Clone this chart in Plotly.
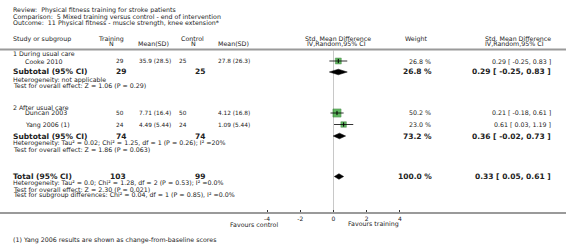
import plotly.graph_objects as go

# ---------------- data ----------------
studies = ["Cooke 2010", "Duncan 2003", "Yang 2006 (1)"]
train_n = [29, 50, 24]
train_msd = ["35.9 (28.5)", "7.71 (16.4)", "4.49 (5.44)"]
ctrl_n = [25, 50, 24]
ctrl_msd = ["27.8 (26.3)", "4.12 (16.8)", "1.09 (5.44)"]
study_est = [0.29, 0.21, 0.61]
study_lo = [-0.25, -0.18, 0.03]
study_hi = [0.83, 0.61, 1.19]
study_weight = [26.8, 50.2, 23.0]

pooled_labels = ["Subtotal (95% CI)", "Subtotal (95% CI)", "Total (95% CI)"]
pooled_train_n = [29, 74, 103]
pooled_ctrl_n = [25, 74, 99]
pooled_est = [0.29, 0.36, 0.33]
pooled_lo = [-0.25, -0.02, 0.05]
pooled_hi = [0.83, 0.73, 0.61]
pooled_weight = [26.8, 73.2, 100.0]

tick_vals = [-4, -2, 0, 2, 4]
tick_text = ["-4", "-2", "0", "2", "4"]

# ---------------- layout helpers ----------------
W, H = 566, 248
AXIS_Y = 212          # pixel row of the axis line
ZERO_PX = 333.5       # pixel column of the zero line
PX_PER_UNIT = 16.6
x_range = [-ZERO_PX / PX_PER_UNIT, (W - ZERO_PX) / PX_PER_UNIT]

FONT = "DejaVu Sans"
FS = 6.3
FSN = 5.8
FSB = 7.5
TXT = "#222222"
GREEN = "#1e9a1e"

study_rows = [61, 113, 124.5]
pooled_rows = [72, 136, 176.5]

annotations = []


def py(px):
    return 1 - px / H


def px_x(px):
    return px / W


def txt(s, x, y, anchor="left", size=FS, bold=False, color=TXT):
    annotations.append(dict(
        text=f"<b>{s}</b>" if bold else s,
        x=px_x(x), y=py(y), xref="paper", yref="paper",
        xanchor=anchor, yanchor="middle", showarrow=False,
        font=dict(family=FONT, size=size, color=color), borderpad=0))


# titles
txt("Review:  Physical fitness training for stroke patients", 12, 10)
txt("Comparison:  5 Mixed training versus control - end of intervention", 12, 16.5)
txt("Outcome:  11 Physical fitness - muscle strength, knee extension*", 12, 23)

# headers
txt("Study or subgroup", 12, 38.5)
txt("Training", 97, 38.5)
txt("N", 111, 43.5, "center")
txt("Mean(SD)", 153, 43.5, "center")
txt("Control", 180, 38.5)
txt("N", 193, 43.5, "center")
txt("Mean(SD)", 233, 43.5, "center")
txt("Std. Mean Difference", 338, 38.5, "center")
txt("IV,Random,95% CI", 336, 43.5, "center")
txt("Weight", 416, 38.5, "center")
txt("Std. Mean Difference", 552, 38.5, "right")
txt("IV,Random,95% CI", 545, 43.5, "right")

# subgroup headings
txt("1 During usual care", 12, 54.5)
txt("2 After usual care", 12, 107.5)

# studies
for i, s in enumerate(studies):
    y = study_rows[i]
    txt(s, 24, y)
    txt(str(train_n[i]), 125, y, "right", size=FSN)
    txt(train_msd[i], 138, y, size=FSN)
    txt(str(ctrl_n[i]), 188, y, "right", size=FSN)
    txt(ctrl_msd[i], 217, y, size=FSN)
    txt(f"{study_weight[i]:.1f} %", 432, y, "right")
    txt(f"{study_est[i]:.2f} [ {study_lo[i]:.2f}, {study_hi[i]:.2f} ]", 552, y, "right")

# pooled rows
for i, lab in enumerate(pooled_labels):
    y = pooled_rows[i]
    txt(lab, 12, y, size=FSB, bold=True)
    txt(str(pooled_train_n[i]), 127, y, "right", size=FSB, bold=True)
    txt(str(pooled_ctrl_n[i]), 206, y, "right", size=FSB, bold=True)
    txt(f"{pooled_weight[i]:.1f} %", 433, y, "right", size=FSB, bold=True)
    txt(f"{pooled_est[i]:.2f} [ {pooled_lo[i]:.2f}, {pooled_hi[i]:.2f} ]", 552, y,
        "right", size=FSB, bold=True)

# heterogeneity / tests
txt("Heterogeneity: not applicable", 12, 79.5)
txt("Test for overall effect: Z = 1.06 (P = 0.29)", 12, 85.5)
txt("Heterogeneity: Tau² = 0.02; Chi² = 1.25, df = 1 (P = 0.26); I² =20%", 12, 143)
txt("Test for overall effect: Z = 1.86 (P = 0.063)", 12, 149.5)
txt("Heterogeneity: Tau² = 0.0; Chi² = 1.28, df = 2 (P = 0.53); I² =0.0%", 12, 183)
txt("Test for overall effect: Z = 2.30 (P = 0.021)", 12, 189)
txt("Test for subgroup differences: Chi² = 0.04, df = 1 (P = 0.85), I² =0.0%", 12, 195)

# favours labels and footnote
txt("Favours control", 279, 224, "right")
txt("Favours training", 347, 224, "left")
txt("(1) Yang 2006 results are shown as change-from-baseline scores", 12, 240)

# ---------------- marks ----------------
fig = go.Figure()

# study squares (size from weight)
fig.add_trace(go.Scatter(
    x=study_est, y=study_rows, mode="markers",
    marker=dict(symbol="square", color=GREEN,
                size=[1.15 * w ** 0.5 for w in study_weight],
                line=dict(color="#0b5e0b", width=0.5)),
    hoverinfo="skip", showlegend=False))

# CI whiskers drawn over the squares, with a small tick at the estimate
fig.add_trace(go.Scatter(
    x=study_est, y=study_rows, mode="markers",
    marker=dict(symbol="line-ns", size=3, line=dict(color="black", width=1)),
    error_x=dict(type="data", symmetric=False,
                 array=[h - e for h, e in zip(study_hi, study_est)],
                 arrayminus=[e - l for e, l in zip(study_est, study_lo)],
                 color="black", thickness=0.8, width=0),
    hoverinfo="skip", showlegend=False))

# pooled diamonds
for i in range(len(pooled_est)):
    yc = pooled_rows[i]
    h = 2.8
    fig.add_trace(go.Scatter(
        x=[pooled_lo[i], pooled_est[i], pooled_hi[i], pooled_est[i], pooled_lo[i]],
        y=[yc, yc - h, yc, yc + h, yc],
        mode="lines", fill="toself", fillcolor="black",
        line=dict(color="black", width=0.5),
        hoverinfo="skip", showlegend=False))

shapes = [
    # header rule
    dict(type="line", xref="paper", yref="paper", x0=0, x1=1, y0=py(49.5), y1=py(49.5),
         line=dict(color="#9a9a9a", width=2)),
    # line of no effect
    dict(type="line", xref="x", yref="y", x0=0, x1=0, y0=50.5, y1=AXIS_Y,
         line=dict(color="#c8c8c8", width=1), layer="below"),
]

fig.update_layout(
    width=W, height=H, margin=dict(l=0, r=0, t=0, b=0),
    paper_bgcolor="white", plot_bgcolor="white",
    annotations=annotations, shapes=shapes,
    xaxis=dict(range=x_range, showgrid=False, zeroline=False,
               showline=True, linecolor="#9a9a9a", linewidth=2,
               tickvals=tick_vals, ticktext=tick_text, ticks="inside",
               ticklen=2, tickwidth=1, tickcolor="#333333",
               tickfont=dict(family=FONT, size=6, color=TXT), fixedrange=True),
    yaxis=dict(range=[AXIS_Y, 0], domain=[1 - AXIS_Y / H, 1], visible=False,
               fixedrange=True),
)

fig.write_html(
    "out.html",
    config={"displayModeBar": False},
    post_script="document.body.style.margin='0';document.body.style.overflow='hidden';",
)
